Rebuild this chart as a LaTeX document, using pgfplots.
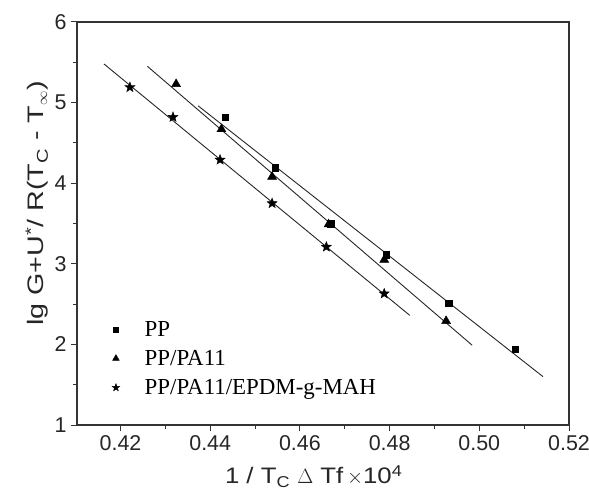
\documentclass[border=0pt]{standalone}
\usepackage{pgfplots}
\pgfplotsset{compat=1.18}
\usepackage{fontspec}
\setmainfont{Liberation Sans}
\newfontfamily\legfont{Liberation Serif}
\newfontfamily\xlabfont[FakeStretch=1.15]{Liberation Sans}
\newfontfamily\ylabfont[FakeStretch=1.28]{Liberation Sans}
\pgfdeclareplotmark{fstar}{%
  \pgfpathmoveto{\pgfpointpolar{90}{\pgfplotmarksize}}%
  \pgfpathlineto{\pgfpointpolar{126}{0.42\pgfplotmarksize}}%
  \pgfpathlineto{\pgfpointpolar{162}{\pgfplotmarksize}}%
  \pgfpathlineto{\pgfpointpolar{198}{0.42\pgfplotmarksize}}%
  \pgfpathlineto{\pgfpointpolar{234}{\pgfplotmarksize}}%
  \pgfpathlineto{\pgfpointpolar{270}{0.42\pgfplotmarksize}}%
  \pgfpathlineto{\pgfpointpolar{306}{\pgfplotmarksize}}%
  \pgfpathlineto{\pgfpointpolar{342}{0.42\pgfplotmarksize}}%
  \pgfpathlineto{\pgfpointpolar{18}{\pgfplotmarksize}}%
  \pgfpathlineto{\pgfpointpolar{54}{0.42\pgfplotmarksize}}%
  \pgfpathclose
  \pgfusepathqfillstroke}
\begin{document}
\begin{tikzpicture}
\path[use as bounding box] (0,0) rectangle (589bp,493bp);
\begin{axis}[
  at={(77bp,68bp)}, anchor=south west,
  scale only axis,
  width=492bp, height=403bp,
  xmin=0.4103, xmax=0.52,
  ymin=1, ymax=6,
  xtick={0.42,0.44,0.46,0.48,0.50,0.52},
  xticklabels={0.42,0.44,0.46,0.48,0.50,0.52},
  ytick={1,2,3,4,5,6},
  minor xtick={0.43,0.45,0.47,0.49,0.51},
  minor ytick={1.5,2.5,3.5,4.5,5.5},
  tick pos=left,
  tick align=outside,
  major tick length=6bp,
  minor tick length=4bp,
  axis line style={line width=1.3bp, black!80},
  every tick/.style={line width=1bp, black!80},
  /pgf/number format/assume math mode=true,
  ticklabel style={font=\fontsize{21.5}{24}\selectfont, black!85},
  xticklabel style={yshift=-1bp},
  yticklabel style={xshift=-1bp},
  xlabel={1 / T\textsubscript{C} $\Delta$ Tf\,$\times$10\textsuperscript{4}},
  ylabel={lg G+U\textsuperscript{*}/ R(T\textsubscript{C} - T\textsubscript{$\infty$})},
  xlabel style={font=\xlabfont\fontsize{22.5}{25}\selectfont, black!85,
    at={(axis description cs:0.481,-0.128)}, anchor=center},
  ylabel style={font=\ylabfont\fontsize{22.5}{25}\selectfont, black!85,
    at={(axis description cs:-0.081,0.55)}, anchor=center},
  legend style={draw=none, fill=none, at={(0.065,0.268)}, anchor=north west,
    font=\legfont\fontsize{23}{25}\selectfont, row sep=8.5bp, column sep=23bp},
  legend image post style={scale=0.75},
  legend cell align=left,
]
\addplot[only marks, mark=square*, mark size=3.3bp, black] coordinates {
 (0.4433,4.82) (0.4545,4.19) (0.4668,3.50) (0.4792,3.11) (0.4932,2.51) (0.5080,1.94)};
\addlegendentry{PP}
\addplot[only marks, mark=triangle*, mark size=5.2bp, black] coordinates {
 (0.4324,5.23) (0.4425,4.67) (0.4538,4.08) (0.4664,3.49) (0.4788,3.05) (0.4926,2.29)};
\addlegendentry{PP/PA11}
\addplot[only marks, mark=fstar, mark size=5.3bp, black] coordinates {
 (0.4221,5.19) (0.4317,4.82) (0.4422,4.29) (0.4538,3.75) (0.4659,3.21) (0.4788,2.63)};
\addlegendentry{PP/PA11/EPDM-g-MAH}
\addplot[black!85, line width=0.9bp, forget plot] coordinates {(0.4373,4.96) (0.5142,1.60)};
\addplot[black!85, line width=0.9bp, forget plot] coordinates {(0.4260,5.45) (0.4984,1.99)};
\addplot[black!85, line width=0.9bp, forget plot] coordinates {(0.4163,5.48) (0.4845,2.36)};
\end{axis}
\end{tikzpicture}
\end{document}
